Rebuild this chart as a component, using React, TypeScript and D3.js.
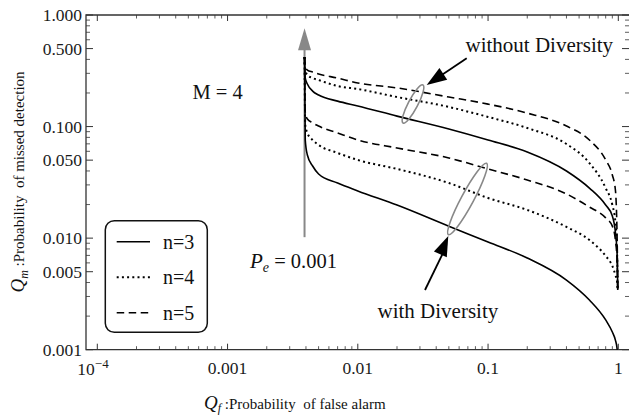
import React from "react";
import * as d3 from "d3";

// ---- data ----
const qfGrid = [0.0039, 0.00395, 0.0041, 0.0045, 0.005, 0.007, 0.01, 0.02, 0.05, 0.1, 0.2, 0.4, 0.6, 0.8, 0.9, 0.95, 0.98, 0.99];
// without diversity
const woN3 = [0.42, 0.272, 0.241, 0.208, 0.192, 0.169, 0.153, 0.124, 0.0951, 0.0758, 0.0592, 0.04, 0.0281, 0.0198, 0.0158, 0.0113, 0.00706, 0.00343];
const woN4 = [0.42, 0.321, 0.29, 0.272, 0.261, 0.231, 0.217, 0.184, 0.15, 0.122, 0.0971, 0.0698, 0.0471, 0.0281, 0.0198, 0.0139, 0.00706, 0.00343];
const woN5 = [0.42, 0.349, 0.321, 0.308, 0.296, 0.272, 0.246, 0.222, 0.184, 0.159, 0.132, 0.101, 0.0758, 0.0502, 0.0368, 0.027, 0.00962, 0.00343];
// with diversity
const wN3 = [0.42, 0.0758, 0.0556, 0.0443, 0.0376, 0.0312, 0.0265, 0.0198, 0.0128, 0.00923, 0.00664, 0.00421, 0.00279, 0.00185, 0.00144, 0.00122, 0.00101, 0.0008];
const wN4 = [0.42, 0.103, 0.0876, 0.0758, 0.0684, 0.058, 0.0502, 0.0417, 0.0312, 0.0229, 0.0179, 0.0126, 0.00962, 0.00692, 0.00563, 0.00467, 0.00404, 0.00343];
const wN5 = [0.42, 0.135, 0.117, 0.108, 0.101, 0.0876, 0.0758, 0.0643, 0.0523, 0.0417, 0.0332, 0.0249, 0.019, 0.0152, 0.0128, 0.00962, 0.00611, 0.00343];

const legendLabels = ["n=3", "n=4", "n=5"];
const xMajorTicks = [1e-4, 1e-3, 1e-2, 1e-1, 1];
const xTickLabels = ["10^-4", "0.001", "0.01", "0.1", "1"];
const yMajorTicks = [1, 0.5, 0.1, 0.05, 0.01, 0.005, 0.001];
const yTickLabels = ["1.000", "0.500", "0.100", "0.050", "0.010", "0.005", "0.001"];
const peThreshold = 0.0039;
const arrowTopValue = 0.76;
const arrowBottomValue = 0.0102;

// ---- layout ----
const W = 629;
const H = 418;
const frameL = 86;
const frameR = 629.5;
const frameT = 15;
const frameB = 349.7;
const serif = "'Liberation Serif', 'Times New Roman', serif";

const dashFor = (i: number) => (i === 0 ? undefined : i === 1 ? "2,3.2" : "7.5,4.5");
const widthFor = (i: number) => (i === 1 ? 2 : 1.6);

export default function App() {
  const x = d3.scaleLog().domain([1e-4, 1]).range([97.3, 618.3]);
  const y = d3.scaleLog().domain([0.001, 1]).range([frameB, frameT]);

  const line = d3
    .line<number>()
    .x((_, i) => x(qfGrid[i]))
    .y((d) => y(d))
    .curve(d3.curveMonotoneX);

  const series = [
    { vals: woN3, style: 0 },
    { vals: woN4, style: 1 },
    { vals: woN5, style: 2 },
    { vals: wN3, style: 0 },
    { vals: wN4, style: 1 },
    { vals: wN5, style: 2 },
  ];

  const xMinor: number[] = [];
  for (let e = -4; e < 0; e++) for (let k = 2; k <= 9; k++) xMinor.push(k * Math.pow(10, e));
  const yMinor: number[] = [];
  for (let e = -3; e < 0; e++) for (let k = 2; k <= 9; k++) if (k !== 5) yMinor.push(k * Math.pow(10, e));

  const frameColor = "#333";
  const ax = x(peThreshold);
  const aTop = y(arrowTopValue);
  const aBot = y(arrowBottomValue);

  const arrowHead = (x0: number, y0: number, x1: number, y1: number, len: number, half: number) => {
    const dx = x1 - x0;
    const dy = y1 - y0;
    const L = Math.hypot(dx, dy);
    const ux = dx / L;
    const uy = dy / L;
    const bx = x1 - ux * len;
    const by = y1 - uy * len;
    return `M${x1},${y1} L${bx - uy * half},${by + ux * half} L${bx + uy * half},${by - ux * half} Z`;
  };

  return (
    <svg width={W} height={H} style={{ position: "absolute", left: 0, top: 0, background: "#fff" }} fontFamily={serif}>
      <defs>
        <clipPath id="plotClip">
          <rect x={frameL} y={frameT} width={frameR - frameL} height={frameB - frameT} />
        </clipPath>
      </defs>

      {/* frame */}
      <path
        d={`M${frameR},${frameT} L${frameL},${frameT} L${frameL},${frameB} L${frameR},${frameB}`}
        fill="none"
        stroke={frameColor}
        strokeWidth={1.3}
      />

      {/* x ticks */}
      {xMajorTicks.map((t) => (
        <g key={"xm" + t}>
          <line x1={x(t)} x2={x(t)} y1={frameB} y2={frameB - 6} stroke={frameColor} strokeWidth={1} />
          <line x1={x(t)} x2={x(t)} y1={frameT} y2={frameT + 6} stroke={frameColor} strokeWidth={1} />
        </g>
      ))}
      {xMinor.map((t) => (
        <g key={"xn" + t}>
          <line x1={x(t)} x2={x(t)} y1={frameB} y2={frameB - 3.5} stroke={frameColor} strokeWidth={0.8} />
          <line x1={x(t)} x2={x(t)} y1={frameT} y2={frameT + 3.5} stroke={frameColor} strokeWidth={0.8} />
        </g>
      ))}
      {/* y ticks */}
      {yMajorTicks.map((t) => (
        <g key={"ym" + t}>
          <line x1={frameL} x2={frameL + 7} y1={y(t)} y2={y(t)} stroke={frameColor} strokeWidth={1} />
          <line x1={629} x2={622} y1={y(t)} y2={y(t)} stroke={frameColor} strokeWidth={1} />
        </g>
      ))}
      {yMinor.map((t) => (
        <g key={"yn" + t}>
          <line x1={frameL} x2={frameL + 4} y1={y(t)} y2={y(t)} stroke={frameColor} strokeWidth={0.8} />
          <line x1={629} x2={625} y1={y(t)} y2={y(t)} stroke={frameColor} strokeWidth={0.8} />
        </g>
      ))}

      {/* tick labels */}
      {yMajorTicks.map((t, i) => (
        <text key={"yl" + t} x={82} y={y(t)} dy="0.35em" textAnchor="end" fontSize={17.5} fill="#1a1a1a">
          {yTickLabels[i]}
        </text>
      ))}
      {xMajorTicks.map((t, i) => {
        const lab = xTickLabels[i];
        if (lab.includes("^")) {
          const [b, e] = lab.split("^");
          return (
            <text key={"xl" + t} x={x(t) - 20} y={375} fontSize={17.5} fill="#1a1a1a">
              {b}
              <tspan dy={-7} fontSize={13}>
                {e.replace("-", "\u2212")}
              </tspan>
            </text>
          );
        }
        return (
          <text key={"xl" + t} x={x(t)} y={374} textAnchor="middle" fontSize={17.5} fill="#1a1a1a">
            {lab}
          </text>
        );
      })}

      {/* axis labels */}
      <text x={204} y={409} fontSize={15} fill="#111" style={{ whiteSpace: "pre" }}>
        <tspan fontStyle="italic" fontSize={19}>Q</tspan>
        <tspan fontStyle="italic" fontSize={12} dy={3}>f</tspan>
        <tspan dy={-3}>{" :Probability  of false alarm"}</tspan>
      </text>
      <text
        transform="translate(24,182) rotate(-90)"
        textAnchor="middle"
        fontSize={15}
        fill="#111"
        style={{ whiteSpace: "pre" }}
      >
        <tspan fontStyle="italic" fontSize={19}>Q</tspan>
        <tspan fontStyle="italic" fontSize={12} dy={4}>m</tspan>
        <tspan dy={-4}>{" :Probability  of missed detection"}</tspan>
      </text>

      {/* gray P_e arrow */}
      <line x1={ax} x2={ax} y1={aBot} y2={aTop + 18} stroke="#888" strokeWidth={2} />
      <path d={`M${ax},${aTop} L${ax - 6.5},${aTop + 22} L${ax + 6.5},${aTop + 22} Z`} fill="#888" />

      {/* curves */}
      <g clipPath="url(#plotClip)">
        {series.map((s, i) => (
          <path
            key={"s" + i}
            d={line(s.vals) || ""}
            fill="none"
            stroke="#000"
            strokeWidth={widthFor(s.style)}
            strokeDasharray={dashFor(s.style)}
          />
        ))}
      </g>

      {/* annotations */}
      <text x={192.5} y={99} fontSize={20.5} fill="#111">M = 4</text>
      <text x={250} y={268} fontSize={20.5} fill="#111" style={{ whiteSpace: "pre" }}>
        <tspan fontStyle="italic" fontSize={21}>P</tspan>
        <tspan fontStyle="italic" fontSize={14} dy={4}>e</tspan>
        <tspan dy={-4}>{" = 0.001"}</tspan>
      </text>
      <text x={465.5} y={51.5} fontSize={21} fill="#111">without Diversity</text>
      <text x={377.5} y={318} fontSize={21} fill="#111">with Diversity</text>

      {/* ellipses */}
      <ellipse cx={413} cy={104} rx={21.5} ry={4.8} transform="rotate(-62.4 413 104)" fill="none" stroke="#888" strokeWidth={1.6} />
      <ellipse cx={467.5} cy={199} rx={40.5} ry={6.2} transform="rotate(-61.8 467.5 199)" fill="none" stroke="#888" strokeWidth={1.6} />

      {/* black arrows */}
      <line x1={466.7} y1={58.3} x2={438} y2={77.5} stroke="#000" strokeWidth={1.8} />
      <path d={arrowHead(466.7, 58.3, 426.7, 85, 20, 7)} fill="#000" />
      <line x1={425} y1={290} x2={443} y2={253} stroke="#000" strokeWidth={1.8} />
      <path d={arrowHead(425, 290, 448.3, 236, 20, 7)} fill="#000" />

      {/* legend */}
      <rect x={105.3} y={220.7} width={102} height={111.6} rx={9} fill="#fff" stroke="#111" strokeWidth={1.5} />
      {legendLabels.map((lab, i) => {
        const ly = [241.7, 277.3, 312.7][i];
        return (
          <g key={lab}>
            <line x1={116.7} x2={150} y1={ly} y2={ly} stroke="#000" strokeWidth={widthFor(i)} strokeDasharray={dashFor(i)} />
            <text x={163} y={ly + 6.8} fontSize={20} fill="#111">{lab}</text>
          </g>
        );
      })}
    </svg>
  );
}
